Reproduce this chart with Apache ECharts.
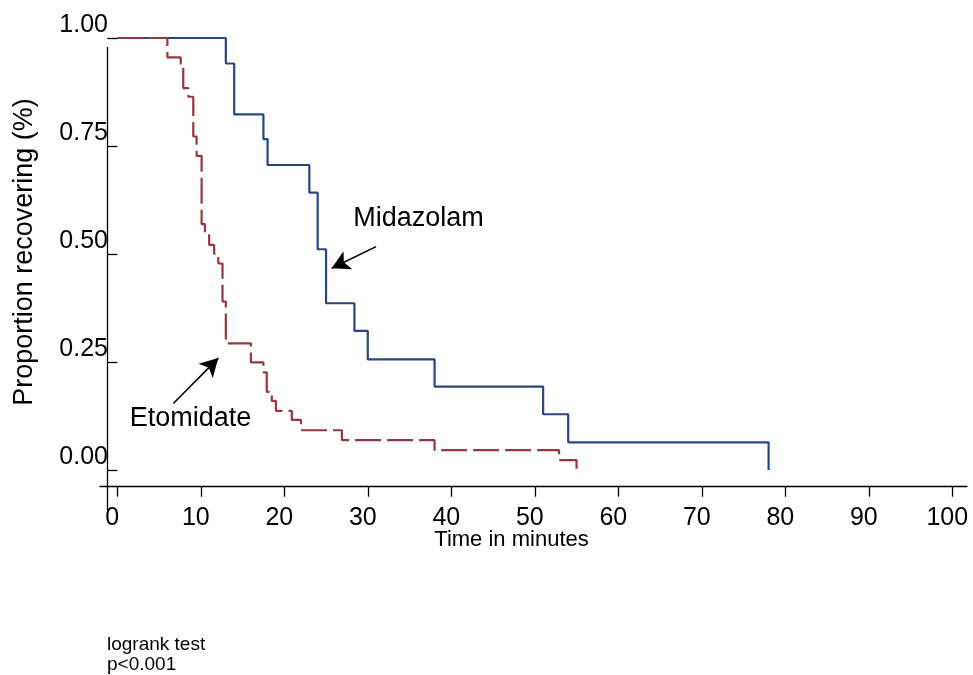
<!DOCTYPE html>
<html>
<head>
<meta charset="utf-8">
<script src="https://cdn.jsdelivr.net/npm/echarts@6/dist/echarts.min.js"></script>
<style>
html,body{margin:0;padding:0;background:#fff;}
#chart{width:973px;height:675px;}
</style>
</head>
<body>
<div id="chart"></div>
<script>
// ---- data ----
const xTicks = [0, 10, 20, 30, 40, 50, 60, 70, 80, 90, 100];
const yTicks = [0, 0.25, 0.5, 0.75, 1];

const midazolamTimes = [0, 13, 14, 17.5, 18, 23, 24, 25, 28.4, 30, 38, 51, 54, 78];
const midazolamSurv  = [1, 0.941, 0.823, 0.766, 0.706, 0.642, 0.511, 0.386, 0.322, 0.256, 0.193, 0.129, 0.064, 0];

const etomidateTimes = [0, 6.0, 7.6, 7.9, 8.5, 9.1, 9.5, 10.1, 10.5, 11.0, 11.6, 12.1, 12.6, 13.0, 16.0, 17.5, 17.9, 18.5, 19.0, 20.9, 22.0, 26.9, 38.0, 52.9, 55.0];
const etomidateSurv  = [1, 0.955, 0.934, 0.884, 0.864, 0.772, 0.727, 0.569, 0.544, 0.521, 0.500, 0.478, 0.390, 0.293, 0.249, 0.226, 0.181, 0.160, 0.137, 0.116, 0.092, 0.069, 0.046, 0.023, 0];

const seriesNames = ['Midazolam', 'Etomidate'];
const xTitle = 'Time in minutes';
const yTitle = 'Proportion recovering (%)';
const noteText = 'logrank test\np<0.001';

// ---- styling / layout ----
const FONT = '"Liberation Sans", Arial, Helvetica, sans-serif';
const BLUE = '#2a4680';
const RED = '#963840';
const X_MIN = -2.07, X_MAX = 101.76;
const Y_MIN = -0.0926, Y_MAX = 1;

const toPairs = (ts, ss) => ts.map((t, i) => [t, ss[i]]);

const chart = echarts.init(document.getElementById('chart'), null, {renderer: 'canvas'});

const option = {
  animation: false,
  backgroundColor: '#fff',
  textStyle: {fontFamily: FONT},
  grid: {left: 100, right: 6, top: 38, bottom: 165, containLabel: false, outerBoundsMode: 'none'},
  xAxis: {
    type: 'value', min: X_MIN, max: X_MAX, offset: -23.3,
    axisLine: {show: true, onZero: false, lineStyle: {color: '#000', width: 1.3}},
    axisTick: {show: true, customValues: xTicks, length: 10, inside: false, lineStyle: {color: '#000', width: 1.3}},
    axisLabel: {customValues: xTicks, fontSize: 25, color: '#000', fontFamily: FONT, margin: 19, lineHeight: 25, padding: [0, 10, 0, 0], hideOverlap: false},
    splitLine: {show: false}
  },
  yAxis: [
    {
      type: 'value', min: Y_MIN, max: Y_MAX, offset: -2,
      axisLine: {show: false},
      axisTick: {show: true, customValues: yTicks, length: 10, lineStyle: {color: '#000', width: 1.3}},
      axisLabel: {show: false},
      splitLine: {show: false}
    },
    {
      type: 'value', min: Y_MIN, max: Y_MAX, offset: -8, position: 'left',
      axisLine: {show: false},
      axisTick: {show: false},
      axisLabel: {customValues: yTicks, formatter: v => v.toFixed(2), fontSize: 25, color: '#000', fontFamily: FONT,
                  margin: 0, verticalAlign: 'bottom', lineHeight: 25, padding: [0, 0, 0, 0]},
      splitLine: {show: false}
    }
  ],
  series: [
    {
      name: seriesNames[0], type: 'line', step: 'end', showSymbol: false, symbol: 'none',
      data: toPairs(midazolamTimes, midazolamSurv),
      lineStyle: {color: BLUE, width: 2.2, type: 'solid'},
      itemStyle: {color: BLUE},
      clip: false,
      markLine: {
        silent: true, animation: false,
        label: {show: false},
        symbolSize: [15, 18],
        data: [
          [
            {coord: [-1.234, 0.979], symbol: 'none', lineStyle: {color: '#000', width: 1.3, type: 'solid'}},
            {coord: [-1.234, -0.0926], symbol: 'none'}
          ],
          [
            {coord: [30.98, 0.517], symbol: 'none', lineStyle: {color: '#000', width: 1.6, type: 'solid'}},
            {coord: [25.68, 0.467], symbol: 'arrow'}
          ]
        ]
      },
      markPoint: {
        silent: true, symbol: 'circle', symbolSize: 1, itemStyle: {color: 'rgba(0,0,0,0)'},
        label: {show: true, position: 'inside', color: '#000', fontSize: 27, fontFamily: FONT, formatter: p => p.name},
        data: [{name: seriesNames[0], coord: [36.07, 0.583]}]
      }
    },
    {
      name: seriesNames[1], type: 'line', step: 'end', showSymbol: false, symbol: 'none',
      data: toPairs(etomidateTimes, etomidateSurv),
      lineStyle: {color: RED, width: 2.2, type: [26, 6]},
      itemStyle: {color: RED},
      clip: false,
      markLine: {
        silent: true, animation: false,
        label: {show: false},
        symbolSize: [15, 18],
        data: [
          [
            {coord: [6.71, 0.154], symbol: 'none', lineStyle: {color: '#000', width: 1.6, type: 'solid'}},
            {coord: [12.10, 0.259], symbol: 'arrow'}
          ]
        ]
      },
      markPoint: {
        silent: true, symbol: 'circle', symbolSize: 1, itemStyle: {color: 'rgba(0,0,0,0)'},
        label: {show: true, position: 'inside', color: '#000', fontSize: 27, fontFamily: FONT, formatter: p => p.name},
        data: [{name: seriesNames[1], coord: [8.77, 0.120]}]
      }
    }
  ],
  graphic: [
    {type: 'text', x: 511.5, y: 540, silent: true,
     style: {text: xTitle, fontSize: 22, fontFamily: FONT, fill: '#000', align: 'center', verticalAlign: 'middle'}},
    {type: 'text', x: 24.5, y: 252, rotation: Math.PI / 2, silent: true,
     style: {text: yTitle, fontSize: 27, fontFamily: FONT, fill: '#000', align: 'center', verticalAlign: 'middle'}},
    {type: 'text', x: 107, y: 655, silent: true,
     style: {text: noteText, fontSize: 19, lineHeight: 20, fontFamily: FONT, fill: '#000', align: 'left', verticalAlign: 'middle'}}
  ]
};

chart.setOption(option);
</script>
</body>
</html>
